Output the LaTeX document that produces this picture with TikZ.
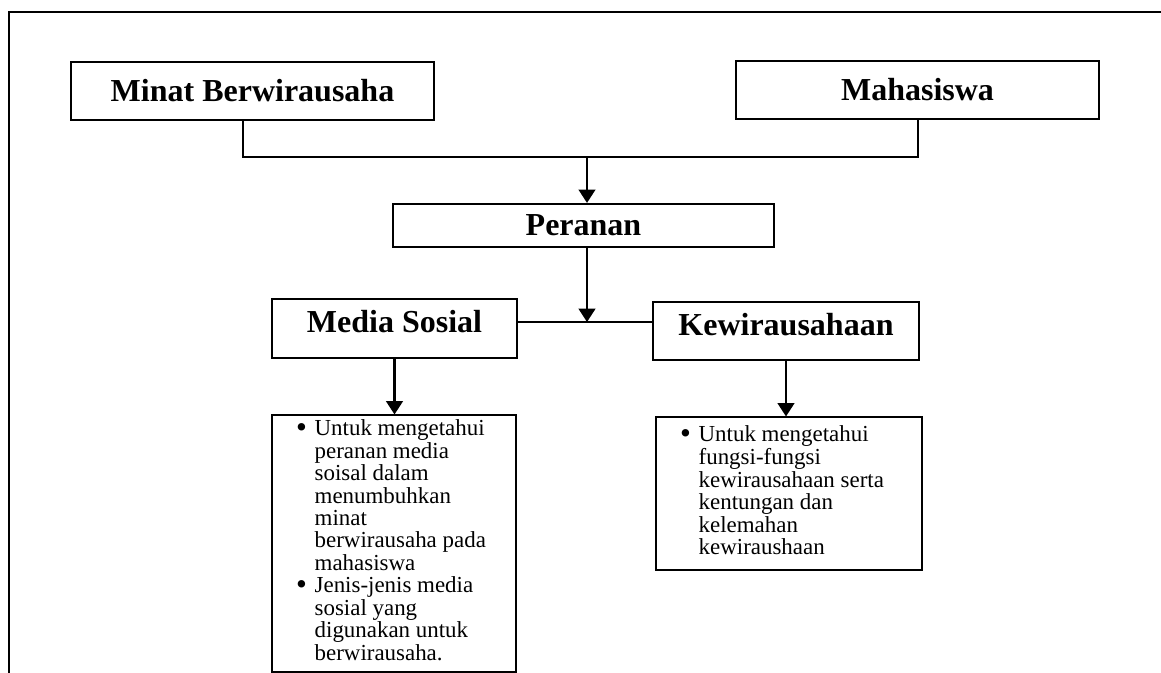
\documentclass[tikz,border=0pt]{standalone}
\usepackage{fontspec}
\setmainfont{Liberation Serif}
\usetikzlibrary{arrows.meta}
\newcommand{\dotmark}{\raisebox{-1.4pt}{\scalebox{1.35}{•}}}

\begin{document}
\begin{tikzpicture}[x=0.75pt,y=-0.75pt,
    headbox/.style={draw,line width=1.6pt,inner sep=0pt,
      font=\fontsize{24}{28}\selectfont\bfseries},
    hightext/.style={text depth=10.5pt},
    notebox/.style={draw,line width=0.8pt,inner xsep=18pt,inner ysep=0pt,
      font=\fontsize{17.2}{16.5}\selectfont},
    conn/.style={line width=1.6pt},
    arr/.style={conn,-{Triangle[width=12.5pt,length=10pt]}}]
  \useasboundingbox (0,0) rectangle (1161,673);
  \draw[line width=1.6pt] (9,673) -- (9,12) -- (1161,12);

  \node[headbox,minimum width=272.25pt,minimum height=43.5pt] (minat) at (252.5,91) {Minat Berwirausaha};
  \node[headbox,minimum width=272.25pt,minimum height=43.5pt] (mhs) at (917.5,90) {Mahasiswa};
  \node[headbox,minimum width=285.75pt,minimum height=32.25pt] (peranan) at (583.5,225.5) {Peranan};
  \node[headbox,hightext,minimum width=183.75pt,minimum height=44.25pt] (media) at (394.5,328.5) {Media Sosial};
  \node[headbox,hightext,minimum width=199.5pt,minimum height=43.5pt] (kew) at (786,331) {Kewirausahaan};

  \node[notebox,minimum width=183pt,minimum height=192.75pt] (mediainfo) at (394,543.5) {%
    \begin{tabular}{@{}p{14pt}@{}p{133pt}@{}}
      \dotmark & Untuk mengetahui\\
        & peranan media\\
        & soisal dalam\\
        & menumbuhkan\\
        & minat\\
        & berwirausaha pada\\
        & mahasiswa\\
      \dotmark & Jenis-jenis media\\
        & sosial yang\\
        & digunakan untuk\\
        & berwirausaha.
    \end{tabular}};
  \node[notebox,minimum width=199.5pt,minimum height=114.75pt] (kewinfo) at (789,493.5) {%
    \begin{tabular}{@{}p{14pt}@{}p{149.5pt}@{}}
      \dotmark & Untuk mengetahui\\
        & fungsi-fungsi\\
        & kewirausahaan serta\\
        & kentungan dan\\
        & kelemahan\\
        & kewiraushaan
    \end{tabular}};

  \coordinate (jl) at (243,157);
  \coordinate (jr) at (918,157);
  \coordinate (jt) at (587,157);
  \coordinate (jm) at (587,322);

  \draw[conn] (minat.south -| jl) -- (jl) -- (jr) -- (mhs.south -| jr);
  \draw[arr] (jt) -- (peranan.north -| jt);
  \draw[arr] (peranan.south -| jm) -- (jm);
  \draw[conn] (media.east |- jm) -- (kew.west |- jm);
  \draw[arr] (media.south) -- (media.south |- mediainfo.north);
  \draw[arr] (kew.south) -- (kew.south |- kewinfo.north);
\end{tikzpicture}
\end{document}
